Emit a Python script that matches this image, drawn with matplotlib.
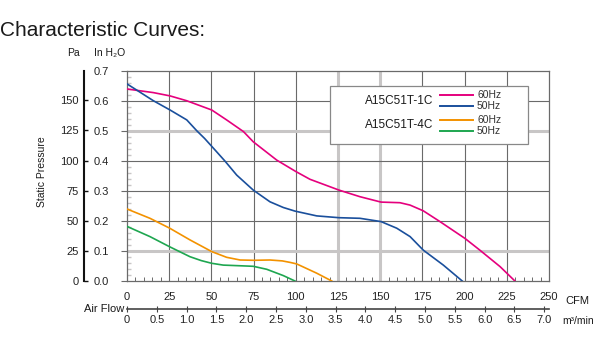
import matplotlib
matplotlib.use("Agg")
import matplotlib.pyplot as plt
from matplotlib.patches import Rectangle
from matplotlib.lines import Line2D
import numpy as np

plt.rcParams['font.family'] = ['Liberation Sans', 'DejaVu Sans']

# ---- data (CFM vs inH2O) ----
pink_x = [0, 15.6, 25.5, 35.3, 50.2, 59, 69, 74.8, 88.7, 100, 108.4, 125.6, 138, 150.5, 161.7, 167.7, 175.5, 185.4, 200.2, 209, 221, 229.8]
pink_y = [0.640, 0.628, 0.617, 0.601, 0.570, 0.537, 0.498, 0.464, 0.403, 0.365, 0.339, 0.303, 0.281, 0.263, 0.261, 0.253, 0.234, 0.198, 0.142, 0.103, 0.048, 0.0]

blue_x = [0, 15.6, 25.5, 35.4, 41.3, 46, 52.1, 58, 65, 74.8, 84.7, 92.6, 99.5, 112.4, 125.6, 138, 150.5, 159.8, 167.7, 175.5, 187.4, 198.6]
blue_y = [0.657, 0.601, 0.570, 0.537, 0.501, 0.475, 0.437, 0.400, 0.353, 0.303, 0.264, 0.245, 0.233, 0.217, 0.211, 0.209, 0.198, 0.176, 0.148, 0.103, 0.053, 0.0]

orange_x = [0, 13.6, 25.3, 37.3, 50.2, 59, 67, 75, 84.7, 92, 96.6, 100.5, 112.4, 121.3]
orange_y = [0.240, 0.209, 0.176, 0.137, 0.098, 0.079, 0.070, 0.069, 0.070, 0.067, 0.062, 0.057, 0.026, 0.0]

green_x = [0, 13.6, 25.3, 37.3, 44, 50.2, 57, 66, 74.8, 82.8, 92.6, 99.5]
green_y = [0.182, 0.148, 0.114, 0.081, 0.068, 0.059, 0.053, 0.051, 0.049, 0.039, 0.018, 0.0]

models = ["A15C51T-1C", "A15C51T-4C"]
freqs = ["60Hz", "50Hz"]

cfm_ticks = [0, 25, 50, 75, 100, 125, 150, 175, 200, 225, 250]
inh2o_ticks = [0.0, 0.1, 0.2, 0.3, 0.4, 0.5, 0.6, 0.7]
pa_ticks = [0, 25, 50, 75, 100, 125, 150]
m3_ticks = [0, 0.5, 1.0, 1.5, 2.0, 2.5, 3.0, 3.5, 4.0, 4.5, 5.0, 5.5, 6.0, 6.5, 7.0]

PINK = '#e5007d'
BLUE = '#1a4f9c'
ORANGE = '#f39200'
GREEN = '#1ea650'

W, H = 600, 350
fig = plt.figure(figsize=(6, 3.5), dpi=100)

def fx(px):
    return px / W
def fy(py):
    return 1 - py / H

ax_l, ax_r, ax_t, ax_b = 127, 549, 71, 281
ax = fig.add_axes([fx(ax_l), fy(ax_b), (ax_r - ax_l) / W, (ax_b - ax_t) / H])
ax.set_xlim(0, 250)
ax.set_ylim(0, 0.7)

DARK = '#6a6a6a'
LIGHT = '#c8c6c6'
light_x = [125, 150]
light_y = [0.1, 0.5]
for v in cfm_ticks[1:-1]:
    if v in light_x:
        ax.axvline(v, color=LIGHT, lw=2.2, zorder=1)
    else:
        ax.axvline(v, color=DARK, lw=0.8, zorder=1)
for v in inh2o_ticks[1:-1]:
    if v in light_y:
        ax.axhline(v, color=LIGHT, lw=2.2, zorder=1)
    else:
        ax.axhline(v, color=DARK, lw=0.8, zorder=1)

for s in ax.spines.values():
    s.set_color(DARK)
    s.set_linewidth(0.9)

ax.plot(pink_x, pink_y, color=PINK, lw=1.2, zorder=3)
ax.plot(blue_x, blue_y, color=BLUE, lw=1.2, zorder=3)
ax.plot(orange_x, orange_y, color=ORANGE, lw=1.2, zorder=3)
ax.plot(green_x, green_y, color=GREEN, lw=1.2, zorder=3)

ax.set_xticks(cfm_ticks)
ax.set_xticks(np.arange(0, 251, 5), minor=True)
ax.set_yticks(inh2o_ticks)
ax.set_yticks(np.arange(0, 0.701, 0.02), minor=True)
ax.set_yticklabels([f"{v:.1f}" for v in inh2o_ticks])
ax.set_xticklabels([str(v) for v in cfm_ticks])
ax.tick_params(axis='x', which='major', length=0, pad=8, labelsize=8, colors='#222222')
ax.tick_params(axis='x', which='minor', direction='in', length=3, color=DARK, width=0.7)
ax.tick_params(axis='y', which='major', direction='out', length=4, pad=9, labelsize=8, color=DARK, labelcolor='#222222')
ax.tick_params(axis='y', which='minor', direction='in', length=3, color=LIGHT, width=1.0)

# Pa axis
PA_PER_IN = 249.09
pa_ax = ax.secondary_yaxis((84 - ax_l) / (ax_r - ax_l),
                           functions=(lambda x: x * PA_PER_IN, lambda p: p / PA_PER_IN))
pa_ax.set_yticks(pa_ticks)
pa_ax.set_yticklabels([str(v) for v in pa_ticks])
pa_ax.spines['left'].set_color('#111111')
pa_ax.spines['left'].set_linewidth(1.5)
pa_ax.tick_params(direction='in', length=3, width=1.0, color='#111111', pad=4, labelsize=8, labelcolor='#222222')

# m3/min axis
CFM_PER_M3 = 35.3147
m3_ax = ax.secondary_xaxis(-(309 - ax_b) / (ax_b - ax_t),
                           functions=(lambda c: c / CFM_PER_M3, lambda m: m * CFM_PER_M3))
m3_ax.set_xticks(m3_ticks)
m3_ax.set_xticklabels([f"{v:.1f}" if v else "0" for v in m3_ticks])
m3_ax.spines['bottom'].set_color('#444444')
m3_ax.spines['bottom'].set_linewidth(1.2)
m3_ax.tick_params(direction='inout', length=5, width=0.8, color='#444444', pad=2, labelsize=8, labelcolor='#222222')

# texts
fig.text(fx(0), fy(30), "Characteristic Curves:", fontsize=15, ha='left', va='center', color='#1a1a1a')
fig.text(fx(73), fy(53), "Pa", fontsize=7.5, ha='center', va='center', color='#1a1a1a')
fig.text(fx(110), fy(53), "In H₂O", fontsize=7.5, ha='center', va='center', color='#1a1a1a')
fig.text(fx(42), fy(172), "Static Pressure", fontsize=7.5, rotation=90, ha='center', va='center', color='#1a1a1a')
fig.text(fx(124), fy(309), "Air Flow", fontsize=8, ha='right', va='center', color='#1a1a1a')
fig.text(fx(565), fy(301), "CFM", fontsize=8, ha='left', va='center', color='#1a1a1a')
fig.text(fx(562), fy(321), "m³/min", fontsize=7.5, ha='left', va='center', color='#1a1a1a')

# legend box
bx0, by0, bx1, by1 = 330, 86, 527.7, 144
fig.add_artist(Rectangle((fx(bx0), fy(by1)), (bx1 - bx0) / W, (by1 - by0) / H,
                         facecolor='white', edgecolor='#888888', lw=0.9, zorder=5))
leg_colors = [[PINK, BLUE], [ORANGE, GREEN]]
group_y = [(95, 106), (120, 131)]
for mi, model in enumerate(models):
    ys = group_y[mi]
    fig.text(fx(433), fy((ys[0] + ys[1]) / 2), model, fontsize=8.5, ha='right', va='center', color='#1a1a1a', zorder=6)
    for fi, fq in enumerate(freqs):
        fig.add_artist(Line2D([fx(440), fx(473)], [fy(ys[fi]), fy(ys[fi])], color=leg_colors[mi][fi], lw=1.4, zorder=6))
        fig.text(fx(477), fy(ys[fi]), fq, fontsize=7.5, ha='left', va='center', color='#333333', zorder=6)

fig.savefig("out.png", dpi=100)
